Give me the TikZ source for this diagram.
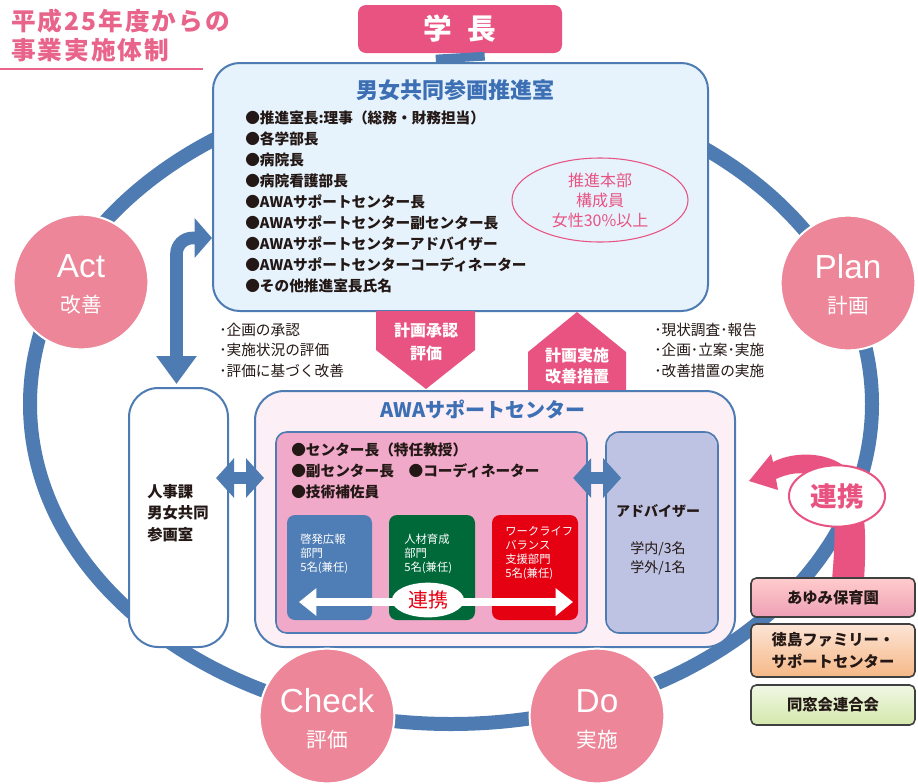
\documentclass[tikz,border=0pt]{standalone}
\usepackage{fontspec}
\setmainfont{Noto Sans CJK JP}
\newfontfamily\latinfont{Liberation Sans}
\newfontfamily\titlefont[LetterSpace=8]{Noto Sans CJK JP}
\usetikzlibrary{fit,shapes.geometric,arrows.meta,calc}
\definecolor{ringblue}{HTML}{4E7CB2}
\definecolor{pinkc}{HTML}{EC8698}
\definecolor{hot}{HTML}{E85382}
\definecolor{titlepink}{HTML}{E8648A}
\definecolor{boxblue}{HTML}{E6F3FC}
\definecolor{awabg}{HTML}{FDEFF6}
\definecolor{innerpink}{HTML}{F0A9C8}
\definecolor{deptblue}{HTML}{4F7DB5}
\definecolor{deptgreen}{HTML}{00693A}
\definecolor{deptred}{HTML}{E50012}
\definecolor{adv}{HTML}{BFC3E3}
\definecolor{titleblue}{HTML}{3D6FB4}
\definecolor{txt}{HTML}{231815}
\tikzset{
  pdca/.style={circle, fill=pinkc, draw=white, line width=1.5pt, minimum size=101pt, inner sep=0pt},
  pdcaen/.style={text=white, font=\latinfont\fontsize{25}{28}\selectfont, inner sep=0pt},
  pdcajp/.style={text=white, font=\fontsize{15.5}{18}\selectfont, inner sep=0pt},
  bluedbl/.style={ringblue, line width=9.5pt, {Triangle[width=29pt,length=13.5pt]}-{Triangle[width=29pt,length=13.5pt]}},
  sidebox/.style={draw=black!75, line width=1.2pt, rounded corners=4pt, inner sep=0pt},
  sidetext/.style={text=txt, font=\bfseries\fontsize{11.5}{16.5}\selectfont, align=center, inner sep=0pt},
  dept/.style={inner sep=0pt, rounded corners=6pt},
  depttext/.style={anchor=north west, align=left, text=white, font=\fontsize{8.5}{10.5}\selectfont, inner sep=0pt},
  plain/.style={text=txt, align=left, inner sep=0pt},
}
\begin{document}
\begin{tikzpicture}[x=0.75pt,y=-0.75pt]
\useasboundingbox (0,0) rectangle (918,783);
\fill[white] (0,0) rectangle (918,783);

% cycle ring
\draw[ringblue, line width=10.5pt] (451,404) ellipse [x radius=421, y radius=320];

% pink cooperation arrow (right)
\fill[hot] (749,481) -- (771,454) -- (773,462)
  .. controls (800,448) and (850,452) .. (860,490)
  .. controls (866,520) and (866,550) .. (864,580)
  -- (832,580)
  .. controls (835,545) and (836,515) .. (832,497)
  .. controls (822,472) and (800,468) .. (776,479)
  -- (778,490) -- cycle;

% title
\node[anchor=west, text=titlepink, font=\titlefont\bfseries\fontsize{18.5}{22}\selectfont, inner sep=0pt] (t1) at (11,21) {平成25年度からの};
\node[anchor=west, text=titlepink, font=\titlefont\bfseries\fontsize{18.5}{22}\selectfont, inner sep=0pt] (t2) at (11,50) {事業実施体制};
\draw[titlepink, line width=0.9pt] (0,69) -- (203,69);

% president
\node[fill=hot, rounded corners=6pt, minimum width=153pt, minimum height=36pt, text=white, font=\bfseries\fontsize{21.5}{24}\selectfont] (gakucho) at (460,29) {学\hspace{0.55em}長};

% promotion office
\node[fit={(213,63) (708,311)}, inner sep=0pt, draw=ringblue, line width=1.5pt, fill=boxblue, rounded corners=20pt] (suishin) {};
\draw[ringblue, line width=36.75pt] (gakucho.south) -- (suishin.north);
\node[text=titleblue, font=\bfseries\fontsize{16.5}{20}\selectfont] (suishintitle) at (455,90) {男女共同参画推進室};
\node[plain, anchor=west, font=\bfseries\fontsize{11}{15.8}\selectfont] (suishinlist) at (245,202) {●推進室長:理事（総務・財務担当）\\●各学部長\\●病院長\\●病院看護部長\\●AWAサポートセンター長\\●AWAサポートセンター副センター長\\●AWAサポートセンターアドバイザー\\●AWAサポートセンターコーディネーター\\●その他推進室長氏名};
\node[ellipse, draw=hot, line width=0.8pt, minimum width=132pt, minimum height=63pt, inner sep=0pt, text=hot, align=center, font=\fontsize{12}{15}\selectfont] (honbu) at (600,200) {推進本部\\構成員\\女性30\%以上};

% side texts
\node[plain, anchor=west, font=\fontsize{11}{15.4}\selectfont] (lefttext) at (219,350) {･企画の承認\\･実施状況の評価\\･評価に基づく改善};
\node[plain, anchor=west, font=\fontsize{11}{15.4}\selectfont] (righttext) at (654,350) {･現状調査･報告\\･企画･立案･実施\\･改善措置の実施};

% pentagon arrows
\fill[hot] (376,311) -- (475,311) -- (475,350) -- (426,389) -- (376,350) -- cycle;
\node[text=white, align=center, font=\bfseries\fontsize{12}{17}\selectfont] (downtext) at (426,342) {計画承認\\評価};
\fill[hot] (577,312) -- (626,352) -- (626,392) -- (528,392) -- (528,352) -- cycle;
\node[text=white, align=center, font=\bfseries\fontsize{12}{16}\selectfont] (uptext) at (577,366) {計画実施\\改善措置};

% AWA support center
\node[fit={(255,391) (735,647)}, inner sep=0pt, draw=ringblue, line width=1.5pt, fill=awabg, rounded corners=22pt] (awa) {};
\node[text=titleblue, font=\bfseries\fontsize{15}{18}\selectfont] (awatitle) at (483,410) {AWAサポートセンター};
\node[fit={(276,432) (587,633)}, inner sep=0pt, draw=ringblue, line width=1.2pt, fill=innerpink, rounded corners=8pt] (center) {};
\node[plain, anchor=west, font=\bfseries\fontsize{11}{16}\selectfont] (centertext) at (291,471) {●センター長（特任教授）\\●副センター長\hspace{1em}●コーディネーター\\●技術補佐員};

\node[dept, fit={(287,515) (372,620)}, fill=deptblue] (d1) {};
\node[dept, fit={(389,515) (475,620)}, fill=deptgreen] (d2) {};
\node[dept, fit={(492,515) (578,620)}, fill=deptred] (d3) {};
\node[depttext] (d1t) at (300,534) {啓発広報\\部門\\5名(兼任)};
\node[depttext] (d2t) at (404,534) {人材育成\\部門\\5名(兼任)};
\node[depttext] (d3t) at (505,526) {ワークライフ\\バランス\\支援部門\\5名(兼任)};
\coordinate (wl) at (299,602);
\coordinate (wr) at (573,602);
\draw[white, line width=6.5pt, {Triangle[width=20pt,length=13pt]}-{Triangle[width=20pt,length=13pt]}] (wl) -- (wr);
\node[ellipse, fill=white, minimum width=54pt, minimum height=26pt, inner sep=0pt, text=deptred, font=\fontsize{15}{18}\selectfont] (renkei1) at (428,600) {連携};

% adviser
\node[fit={(606,432) (718,633)}, inner sep=0pt, draw=ringblue, line width=1.2pt, fill=adv, rounded corners=10pt] (adv) {};
\node[text=txt, font=\bfseries\fontsize{10.5}{12}\selectfont] (advtitle) at (658,511) {アドバイザー};
\node[text=txt, align=center, font=\fontsize{10.5}{14}\selectfont] (advnum) at (658,558) {学内/3名\\学外/1名};

% personnel section
\node[fit={(129,388) (228,647)}, inner sep=0pt, draw=ringblue, line width=1.5pt, fill=white, rounded corners=22pt] (jinji) {};
\node[plain, anchor=west, font=\bfseries\fontsize{11.5}{16}\selectfont] (jinjitext) at (147,513) {人事課\\男女共同\\参画室};

% blue arrows
\coordinate (yA) at (0,478);
\coordinate (yB) at (0,238);
\draw[bluedbl, shorten <=-9.75pt, shorten >=-7.5pt] (jinji.east |- yA) -- (awa.west |- yA);
\draw[bluedbl, shorten <=-11pt, shorten >=-12pt] (center.east |- yA) -- (adv.west |- yA);
\draw[ringblue, line width=9.5pt, rounded corners=12pt, {Triangle[width=29pt,length=21pt]}-{Triangle[width=29pt,length=13pt]}] ($(jinji.north)+(-2,-3)$) |- (suishin.west |- yB);

% PDCA circles
\node[pdca] (act) at (81,282) {};
\node[pdca] (plan) at (848,283) {};
\node[pdca] (check) at (327,716) {};
\node[pdca] (do) at (597,716) {};
\node[pdcaen] (acten) at ($(act)+(0,-16)$) {Act};
\node[pdcajp] (actjp) at ($(act)+(0,23)$) {改善};
\node[pdcaen] (planen) at ($(plan)+(0,-16)$) {Plan};
\node[pdcajp] (planjp) at ($(plan)+(0,23)$) {計画};
\node[pdcaen] (checken) at ($(check)+(0,-15)$) {Check};
\node[pdcajp] (checkjp) at ($(check)+(0,24)$) {評価};
\node[pdcaen] (doen) at ($(do)+(0,-15)$) {Do};
\node[pdcajp] (dojp) at ($(do)+(0,24)$) {実施};

% partner boxes
\node[sidebox, fit={(751,578) (915,617)}, top color=white!20!pink, bottom color={rgb,255:red,238;green,160;blue,182}] (ayumi) {};
\node[sidetext] (ayumit) at (ayumi.center) {あゆみ保育園};
\node[sidebox, fit={(751,624) (915,677)}, top color={rgb,255:red,252;green,228;blue,214}, bottom color={rgb,255:red,246;green,184;blue,134}] (tokushima) {};
\node[sidetext, font=\bfseries\fontsize{11.5}{16.5}\selectfont] (tokushimat) at (tokushima.center) {徳島ファミリー・\\サポートセンター};
\node[sidebox, fit={(751,685) (915,725)}, top color={rgb,255:red,240;green,247;blue,228}, bottom color={rgb,255:red,212;green,232;blue,172}] (dosokai) {};
\node[sidetext] (dosokait) at (dosokai.center) {同窓会連合会};

\node[ellipse, draw=hot, line width=1.5pt, fill=white, minimum width=72pt, minimum height=46pt, inner sep=0pt, text=hot, font=\bfseries\fontsize{20}{22}\selectfont] (renkei2) at (837,496) {連携};
\end{tikzpicture}
\end{document}
